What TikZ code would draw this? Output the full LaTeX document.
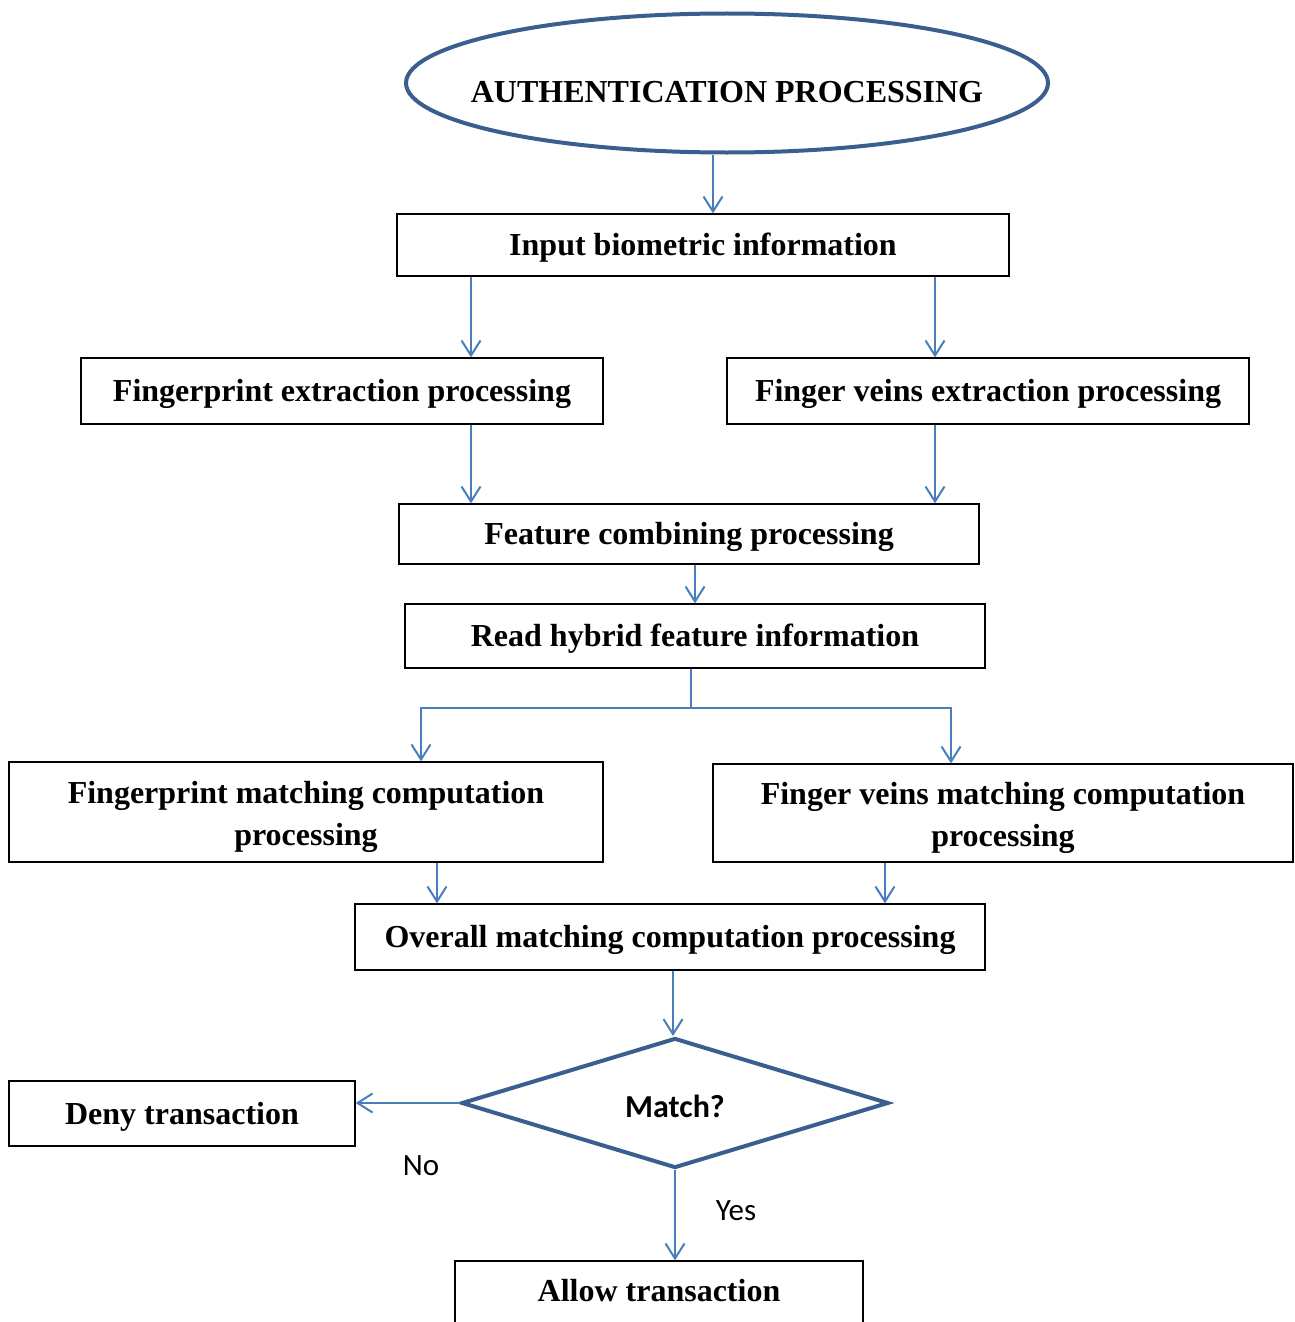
\documentclass[tikz,border=0pt]{standalone}
\usepackage{fontspec}
\setmainfont{Liberation Serif}
\newfontfamily\calibri{Carlito}
\usetikzlibrary{shapes.geometric,arrows.meta}
\definecolor{shapeblue}{HTML}{3A5F8F}
\definecolor{linkblue}{HTML}{4A7EBB}
\begin{document}
\begin{tikzpicture}[x=1pt,y=-1pt,
  box/.style={draw=black,line width=1.3pt,inner sep=0pt,align=center,
    text height=21.5pt,text depth=0pt,
    font=\fontsize{32}{36}\selectfont\bfseries},
  twoline/.style={text height=66pt,text depth=0pt,font=\fontsize{32}{42}\selectfont\bfseries},
  conn/.style={draw=linkblue,line width=2pt,-{Straight Barb[length=15pt,width=19pt,line width=2pt]}},
  link/.style={draw=linkblue,line width=2pt},
  lbl/.style={font=\calibri\fontsize{31}{34}\selectfont,inner sep=0pt}]
\useasboundingbox (0,0) rectangle (1295,1322);
\clip (0,0) rectangle (1295,1322);

% column / row helper coordinates
\coordinate (c713) at (713,0);
\coordinate (c471) at (471,0);
\coordinate (c935) at (935,0);
\coordinate (c695) at (695,0);
\coordinate (c691) at (691,0);
\coordinate (c421) at (421,0);
\coordinate (c951) at (951,0);
\coordinate (c437) at (437,0);
\coordinate (c885) at (885,0);
\coordinate (c673) at (673,0);
\coordinate (yfork) at (0,708);

\node[ellipse,draw=shapeblue,line width=4pt,minimum width=642pt,minimum height=139pt,
  inner sep=0pt,text height=39pt,text depth=0pt,
  font=\fontsize{32}{36}\selectfont\bfseries] (auth) at (727,83) {\makebox[0pt]{AUTHENTICATION PROCESSING}};

\node[box,minimum width=612pt,minimum height=62pt] (input) at (703,245) {Input biometric information};
\node[box,minimum width=522pt,minimum height=66pt] (fpx) at (342,391) {Fingerprint extraction processing};
\node[box,minimum width=522pt,minimum height=66pt] (fvx) at (988,391) {Finger veins extraction processing};
\node[box,minimum width=580pt,minimum height=60pt] (comb) at (689,534) {Feature combining processing};
\node[box,minimum width=580pt,minimum height=64pt] (read) at (695,636) {Read hybrid feature information};
\node[box,twoline,minimum width=594pt,minimum height=100pt] (fpm) at (306,812) {Fingerprint matching computation\\processing};
\node[box,twoline,minimum width=580pt,minimum height=98pt] (fvm) at (1003,813) {Finger veins matching computation\\processing};
\node[box,minimum width=630pt,minimum height=66pt] (overall) at (670,937) {Overall matching computation processing};
\node[diamond,draw=shapeblue,line width=4pt,minimum width=427pt,minimum height=130pt,
  inner sep=0pt,aspect=3.3,text height=28.6pt,text depth=0pt,
  font=\calibri\fontsize{32}{34}\selectfont\bfseries] (dia) at (675,1103) {Match?};
\node[box,minimum width=346pt,minimum height=65pt] (deny) at (182,1113.5) {Deny transaction};
\node[box,minimum width=408pt,minimum height=69pt,text depth=9pt] (allow) at (659,1295.5) {Allow transaction};

\node[lbl] (no) at (421,1166) {No};
\node[lbl] (yes) at (736,1211) {Yes};

% connectors
\draw[conn] (c713 |- auth.south) -- (c713 |- input.north);
\draw[conn] (c471 |- input.south) -- (c471 |- fpx.north);
\draw[conn] (c935 |- input.south) -- (c935 |- fvx.north);
\draw[conn] (c471 |- fpx.south) -- (c471 |- comb.north);
\draw[conn] (c935 |- fvx.south) -- (c935 |- comb.north);
\draw[conn] (c695 |- comb.south) -- (c695 |- read.north);
\draw[link] (c691 |- read.south) -- (c691 |- yfork);
\draw[conn] (c691 |- yfork) -| (c421 |- fpm.north);
\draw[conn] (c691 |- yfork) -| (c951 |- fvm.north);
\draw[conn] (c437 |- fpm.south) -- (c437 |- overall.north);
\draw[conn] (c885 |- fvm.south) -- (c885 |- overall.north);
\draw[conn] (c673 |- overall.south) -- (c673 |- dia.north);
\draw[conn] (dia.west) -- (dia.west -| deny.east);
\draw[conn] (dia.south) -- (dia.south |- allow.north);
\end{tikzpicture}
\end{document}
